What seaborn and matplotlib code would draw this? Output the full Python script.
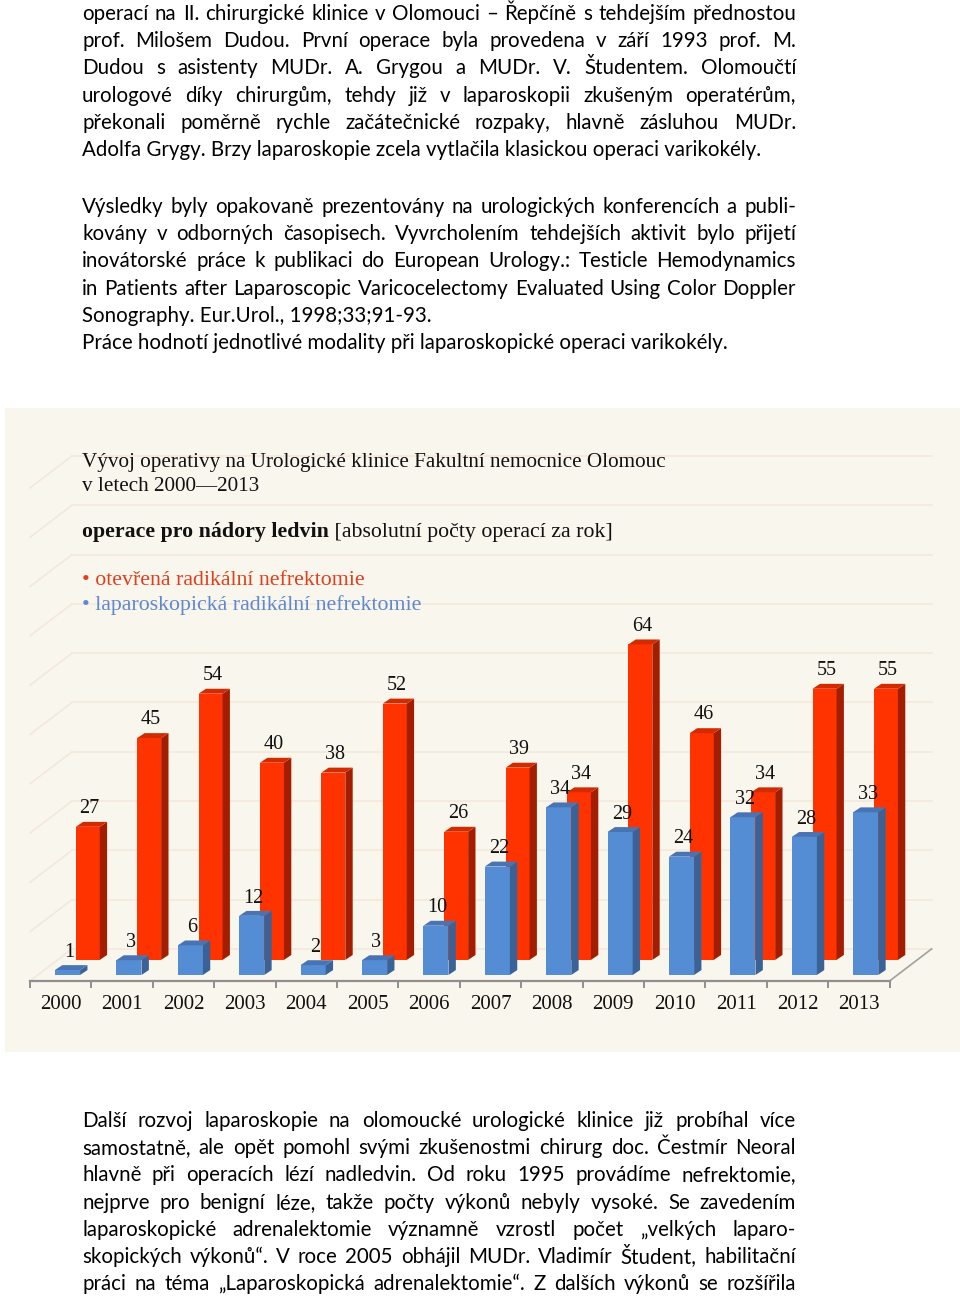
import matplotlib
matplotlib.use("Agg")
import matplotlib.pyplot as plt
from matplotlib.patches import Polygon
import numpy as np
import seaborn as sns

# data
years = [str(y) for y in range(2000, 2014)]
open_ops = [27, 45, 54, 40, 38, 52, 26, 39, 34, 64, 46, 34, 55, 55]
lap_ops = [1, 3, 6, 12, 2, 3, 10, 22, 34, 29, 24, 32, 28, 33]

title_lines = ["Vývoj operativy na Urologické klinice Fakultní nemocnice Olomouc",
               "v letech 2000—2013"]
subtitle_bold = "operace pro nádory ledvin"
subtitle_rest = " [absolutní počty operací za rok]"
legend_labels = ["otevřená radikální nefrektomie",
                 "laparoskopická radikální nefrektomie"]

para1 = ["operací na II. chirurgické klinice v Olomouci – Řepčíně s tehdejším přednostou",
         "prof. Milošem Dudou. První operace byla provedena v září 1993 prof. M.",
         "Dudou s asistenty MUDr. A. Grygou a MUDr. V. Študentem. Olomoučtí",
         "urologové díky chirurgům, tehdy již v laparoskopii zkušeným operatérům,",
         "překonali poměrně rychle začátečnické rozpaky, hlavně zásluhou MUDr.",
         "Adolfa Grygy. Brzy laparoskopie zcela vytlačila klasickou operaci varikokély."]
para2 = ["Výsledky byly opakovaně prezentovány na urologických konferencích a publi-",
         "kovány v odborných časopisech. Vyvrcholením tehdejších aktivit bylo přijetí",
         "inovátorské práce k publikaci do European Urology.: Testicle Hemodynamics",
         "in Patients after Laparoscopic Varicocelectomy Evaluated Using Color Doppler",
         "Sonography. Eur.Urol., 1998;33;91-93."]
para3 = ["Práce hodnotí jednotlivé modality při laparoskopické operaci varikokély."]
para4 = ["Další rozvoj laparoskopie na olomoucké urologické klinice již probíhal více",
         "samostatně, ale opět pomohl svými zkušenostmi chirurg doc. Čestmír Neoral",
         "hlavně při operacích lézí nadledvin. Od roku 1995 provádíme nefrektomie,",
         "nejprve pro benigní léze, takže počty výkonů nebyly vysoké. Se zavedením",
         "laparoskopické adrenalektomie významně vzrostl počet „velkých laparo-",
         "skopických výkonů“. V roce 2005 obhájil MUDr. Vladimír Študent, habilitační",
         "práci na téma „Laparoskopická adrenalektomie“. Z dalších výkonů se rozšířila"]

W, H = 960, 1296
BG = "#F9F6EE"
GRID = "#F4E8DB"
RED, RED_SIDE, RED_TOP = "#FF3300", "#A31E00", "#D42A00"
BLUE, BLUE_SIDE, BLUE_TOP = "#558DD5", "#3B6296", "#4874B4"
BODY = "Lato"
SERIF = "Liberation Serif"

fig = plt.figure(figsize=(W / 100, H / 100), dpi=100)
fig.patch.set_facecolor("white")
renderer = fig.canvas.get_renderer()


def fpos(x, y):
    return x / W, 1 - y / H


def text_width(s, **kw):
    t = fig.text(0, 0, s, **kw)
    w = t.get_window_extent(renderer).width
    t.remove()
    return w


def draw_line(s, x0, x1, y, justify, **kw):
    words = s.split(" ")
    if not justify or len(words) == 1:
        fig.text(*fpos(x0, y), s, va="baseline", ha="left", **kw)
        return
    widths = [text_width(w, **kw) for w in words]
    gap = (x1 - x0 - sum(widths)) / (len(words) - 1)
    x = x0
    for w, wd in zip(words, widths):
        fig.text(*fpos(x, y), w, va="baseline", ha="left", **kw)
        x += wd + gap


def draw_para(lines, y0, last_justified=False):
    for k, line in enumerate(lines):
        just = last_justified or k < len(lines) - 1
        draw_line(line, 82, 796, y0 + 27.2 * k, just,
                  family=BODY, fontsize=body_fs, color="black")


body_fs = 10 * 681 / text_width(para1[-1], family=BODY, fontsize=10)
draw_para(para1, 20)
draw_para(para2, 213)
draw_para(para3, 213 + 27.2 * 5)
draw_para(para4, 1127, last_justified=True)

# chart panel, 1 x-unit = 61.4 px, 1 y-unit = 4.93 px
ax = fig.add_axes([5 / W, 1 - 1052 / H, 955 / W, 644 / H])
ax.set_facecolor(BG)

dep = (0.684, 6.49)          # full floor depth
axis_y = -1.2                # front floor edge
x_left, x_right = -0.61, 13.39

for k in range(11):
    yb = axis_y + dep[1] + 10 * k
    ax.plot([x_left + dep[0], x_right + dep[0]], [yb, yb], color=GRID, lw=1.2, zorder=1)
    ax.plot([x_left, x_left + dep[0]], [axis_y + 10 * k, yb], color=GRID, lw=1.2, zorder=1)

ax.plot([x_left, x_right], [axis_y, axis_y], color="#8F8F8F", lw=1.6, zorder=4)
ax.plot([x_right, x_right + dep[0]], [axis_y, axis_y + dep[1]], color="#A0A0A0", lw=1.2, zorder=4)
for k in range(15):
    ax.plot([x_left + k, x_left + k], [axis_y, axis_y - 1.3], color="#8F8F8F", lw=1.4, zorder=4)

idx = np.arange(len(years))
red_off, red_base, red_w = 0.33, 3.06, 0.39
blue_w = 0.41
thick = (0.12, 1.0)


def faces(xc, width, base, top, side_c, top_c, z):
    xl, xr = xc - width / 2, xc + width / 2
    dx, dy = thick
    ax.add_patch(Polygon([(xr, base), (xr + dx, base + dy), (xr + dx, top + dy), (xr, top)],
                         closed=True, facecolor=side_c, edgecolor="none", zorder=z))
    ax.add_patch(Polygon([(xl, top), (xr, top), (xr + dx, top + dy), (xl + dx, top + dy)],
                         closed=True, facecolor=top_c, edgecolor="none", zorder=z))


# open surgery bars (behind)
ax.bar(idx + red_off, open_ops, width=red_w, bottom=red_base, color=RED,
       edgecolor="none", zorder=2)
for i, v in zip(idx, open_ops):
    faces(i + red_off, red_w, red_base, red_base + v, RED_SIDE, RED_TOP, 2)
    ax.text(i + red_off + 0.03, red_base + v + 3.7, str(v), ha="center", va="center",
            family=SERIF, fontsize=14.5, color="#111111", zorder=6)

# laparoscopic bars (front)
sns.barplot(x=years, y=lap_ops, color=BLUE, saturation=1, width=blue_w,
            edgecolor="none", ax=ax, zorder=3)
for i, v in zip(idx, lap_ops):
    faces(i, blue_w, 0, v, BLUE_SIDE, BLUE_TOP, 3)
    ax.text(i + 0.03, v + 3.6, str(v), ha="center", va="center",
            family=SERIF, fontsize=14.5, color="#111111", zorder=6)

for i, y in zip(idx, years):
    ax.text(i - 0.11, -5.9, y, ha="center", va="center", family=SERIF,
            fontsize=15, color="#111111")

ax.set_xlim(-1.018, 14.536)
ax.set_ylim(-15.62, 115.01)
ax.set_xticks([])
ax.set_yticks([])
ax.set_xlabel("")
ax.set_ylabel("")
for s in ax.spines.values():
    s.set_visible(False)

# chart titles
title_fs = 10 * 583 / text_width(title_lines[0], family=SERIF, fontsize=10)
fig.text(*fpos(82, 467), title_lines[0], family=SERIF, fontsize=title_fs, va="baseline", color="#111111")
fig.text(*fpos(82, 491), title_lines[1], family=SERIF, fontsize=title_fs, va="baseline", color="#111111")

sub_w10 = (text_width(subtitle_bold, family=SERIF, fontsize=10, fontweight="bold")
           + text_width(subtitle_rest, family=SERIF, fontsize=10))
sub_fs = 10 * 530 / sub_w10
bw = text_width(subtitle_bold, family=SERIF, fontsize=sub_fs, fontweight="bold")
fig.text(*fpos(82, 537), subtitle_bold, family=SERIF, fontsize=sub_fs, fontweight="bold",
         va="baseline", color="#111111")
fig.text(*fpos(82 + bw, 537), subtitle_rest, family=SERIF, fontsize=sub_fs,
         va="baseline", color="#111111")

leg_fs = 10 * 341 / text_width("• " + legend_labels[1], family=SERIF, fontsize=10)
fig.text(*fpos(82, 585), "• " + legend_labels[0], family=SERIF, fontsize=leg_fs,
         va="baseline", color="#E0401E")
fig.text(*fpos(82, 610), "• " + legend_labels[1], family=SERIF, fontsize=leg_fs,
         va="baseline", color="#5F89CF")

fig.savefig("out.png", dpi=100, facecolor="white")
